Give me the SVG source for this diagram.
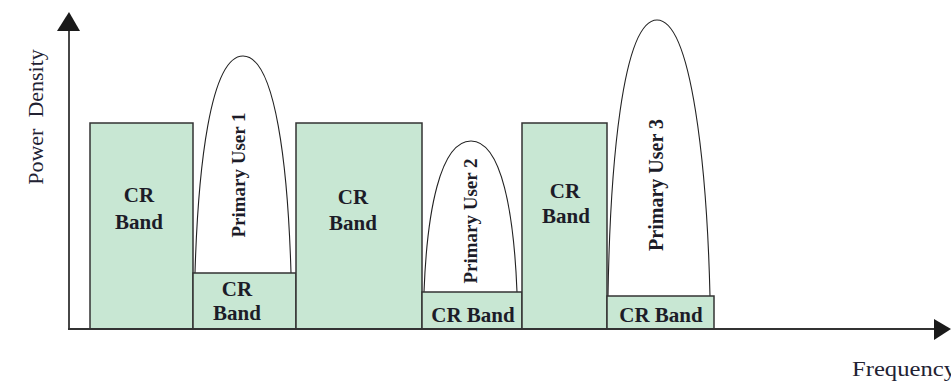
<svg xmlns="http://www.w3.org/2000/svg" width="951" height="382" viewBox="0 0 951 382">
  <style>
    .band { fill: #c8e7d3; stroke: #333333; stroke-width: 1.5; }
    .pu { fill: #ffffff; stroke: #222222; stroke-width: 1.1; stroke-linejoin: round; }
    .lbl { font-family: "Liberation Serif", "Times New Roman", serif; font-weight: bold; font-size: 21px; fill: #1c1c28; text-anchor: middle; }
    .pul { font-family: "Liberation Serif", "Times New Roman", serif; font-weight: bold; fill: #1c1c28; text-anchor: middle; }
    .axis { stroke: #333333; stroke-width: 1.8; fill: none; }
    .axtxt { font-family: "Liberation Serif", "Times New Roman", serif; font-size: 22px; fill: #222233; }
  </style>

  <!-- primary user spectra (drawn first, sit on top of their narrow CR bands) -->
  <g id="primary-user-1">
    <path class="pu" d="M195,273 C198,170 210,56 243,56 C276,56 288,170 291,273"/>
    <text class="pul" font-size="19" transform="translate(245,175) rotate(-90)">Primary User 1</text>
  </g>
  <g id="primary-user-2">
    <path class="pu" d="M424,292 C427,212 440,141 471,141 C502,141 514,215 517,292"/>
    <text class="pul" font-size="19" transform="translate(477,221) rotate(-90)">Primary User 2</text>
  </g>
  <g id="primary-user-3">
    <path class="pu" d="M608,296 C610,170 622,20 657,20 C692,20 707,170 710,296"/>
    <text class="pul" font-size="20" transform="translate(663,185) rotate(-90)">Primary User 3</text>
  </g>

  <!-- cognitive radio bands -->
  <g id="cr-band-1">
    <rect class="band" x="90" y="123" width="103" height="206"/>
    <text class="lbl" x="139" y="202">CR</text>
    <text class="lbl" x="139" y="229">Band</text>
  </g>
  <g id="cr-band-2">
    <rect class="band" x="193" y="273" width="103" height="56"/>
    <text class="lbl" font-size="20" x="237" y="296">CR</text>
    <text class="lbl" font-size="20" x="237" y="320">Band</text>
  </g>
  <g id="cr-band-3">
    <rect class="band" x="296" y="123" width="126" height="206"/>
    <text class="lbl" x="353" y="204">CR</text>
    <text class="lbl" x="353" y="230">Band</text>
  </g>
  <g id="cr-band-4">
    <rect class="band" x="422" y="292" width="100" height="37"/>
    <text class="lbl" x="473" y="322">CR Band</text>
  </g>
  <g id="cr-band-5">
    <rect class="band" x="522" y="123" width="85" height="206"/>
    <text class="lbl" x="565" y="198">CR</text>
    <text class="lbl" x="566" y="223">Band</text>
  </g>
  <g id="cr-band-6">
    <rect class="band" x="607" y="296" width="107" height="33"/>
    <text class="lbl" x="661" y="322">CR Band</text>
  </g>

  <!-- axes -->
  <g id="axes">
    <line class="axis" x1="69" y1="329" x2="69" y2="29"/>
    <polygon points="69,12 80,31 57,31" fill="#1a1a1a"/>
    <line class="axis" x1="68" y1="329" x2="936" y2="329"/>
    <polygon points="951,329 934,319 934,340" fill="#1a1a1a"/>
    <text class="axtxt" font-size="23" text-anchor="middle" transform="translate(43,117) rotate(-90)" xml:space="preserve">Power  Density</text>
    <text class="axtxt" x="852" y="376" textLength="104" lengthAdjust="spacingAndGlyphs">Frequency</text>
  </g>
</svg>
